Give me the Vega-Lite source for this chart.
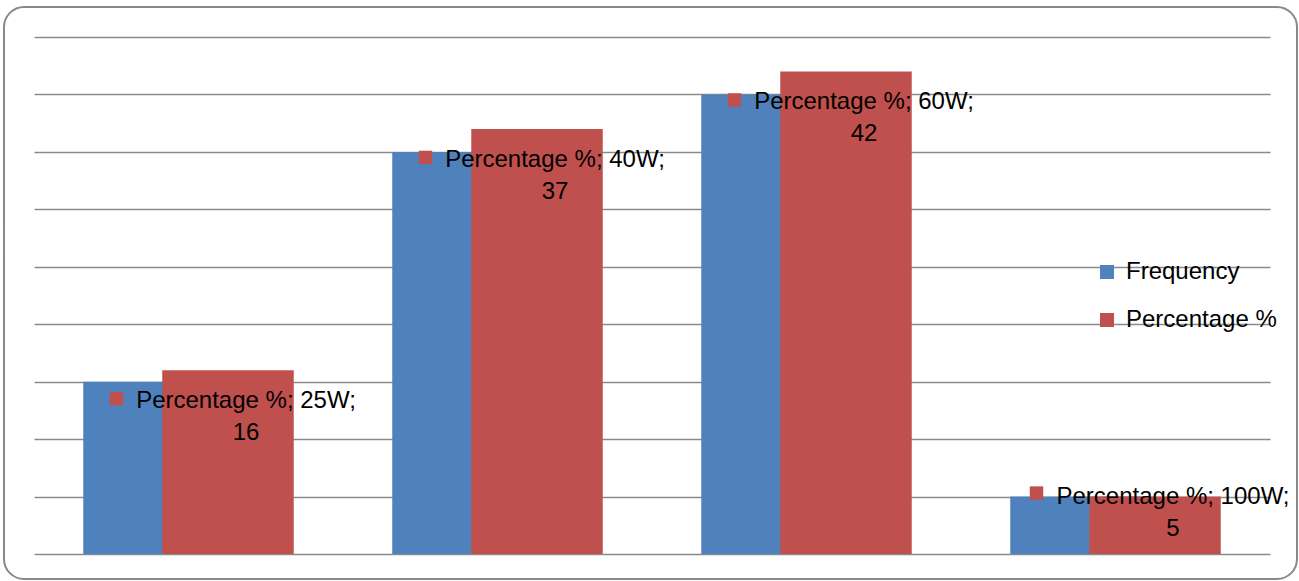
{
  "$schema": "https://vega.github.io/schema/vega-lite/v6.json",
  "width": 1293,
  "height": 572,
  "autosize": {"type": "none"},
  "padding": {"left": 4, "top": 7, "right": 2, "bottom": 2},
  "background": "white",
  "config": {
    "view": {"stroke": "#898989", "strokeWidth": 2, "cornerRadius": 20},
    "font": "Liberation Sans"
  },
  "data": {
    "values": [
      {"watt": "25W", "series": "Frequency", "value": 15},
      {"watt": "40W", "series": "Frequency", "value": 35},
      {"watt": "60W", "series": "Frequency", "value": 40},
      {"watt": "100W", "series": "Frequency", "value": 5},
      {"watt": "25W", "series": "Percentage %", "value": 16},
      {"watt": "40W", "series": "Percentage %", "value": 37},
      {"watt": "60W", "series": "Percentage %", "value": 42},
      {"watt": "100W", "series": "Percentage %", "value": 5}
    ]
  },
  "encoding": {
    "x": {
      "field": "watt",
      "type": "nominal",
      "sort": ["25W", "40W", "60W", "100W"],
      "scale": {"range": [30, 1266], "paddingInner": 0, "paddingOuter": 0},
      "axis": null
    },
    "y": {
      "field": "value",
      "type": "quantitative",
      "scale": {"domain": [0, 45], "range": [547, 30], "nice": false, "zero": true},
      "axis": {
        "values": [0, 5, 10, 15, 20, 25, 30, 35, 40, 45],
        "grid": true,
        "gridColor": "#8a8a8a",
        "gridWidth": 1.5,
        "labels": false,
        "ticks": false,
        "domain": false,
        "title": null
      }
    }
  },
  "layer": [
    {
      "transform": [{"filter": "datum.series == 'Frequency'"}],
      "mark": {"type": "bar", "width": 131.5, "xOffset": -39.5},
      "encoding": {
        "color": {
          "field": "series",
          "type": "nominal",
          "scale": {"domain": ["Frequency", "Percentage %"], "range": ["#4F81BD", "#C0504D"]},
          "legend": {
            "orient": "none",
            "legendX": 1091,
            "legendY": 253,
            "title": null,
            "padding": 0,
            "symbolType": "square",
            "symbolSize": 196,
            "symbolStrokeWidth": 0,
            "labelFontSize": 24,
            "labelFont": "Liberation Sans",
            "labelColor": "#000000",
            "labelOffset": 7,
            "rowPadding": 24
          }
        }
      }
    },
    {
      "transform": [{"filter": "datum.series == 'Percentage %'"}],
      "mark": {"type": "bar", "width": 131.5, "xOffset": 39.5},
      "encoding": {
        "color": {
          "field": "series",
          "type": "nominal",
          "scale": {"domain": ["Frequency", "Percentage %"], "range": ["#4F81BD", "#C0504D"]},
          "legend": {
            "orient": "none",
            "legendX": 1091,
            "legendY": 253,
            "title": null,
            "padding": 0,
            "symbolType": "square",
            "symbolSize": 196,
            "symbolStrokeWidth": 0,
            "labelFontSize": 24,
            "labelFont": "Liberation Sans",
            "labelColor": "#000000",
            "labelOffset": 7,
            "rowPadding": 24
          }
        }
      }
    },
    {
      "transform": [
        {"filter": "datum.series == 'Percentage %' && datum.watt != '100W'"},
        {"calculate": "'Percentage %; ' + datum.watt + ';'", "as": "label"}
      ],
      "mark": {"type": "text", "align": "center", "baseline": "alphabetic", "dx": 57.5, "dy": 38, "fontSize": 24, "color": "#000000"},
      "encoding": {"text": {"field": "label", "type": "nominal"}}
    },
    {
      "transform": [{"filter": "datum.series == 'Percentage %' && datum.watt != '100W'"}],
      "mark": {"type": "text", "align": "center", "baseline": "alphabetic", "dx": 57.5, "dy": 70, "fontSize": 24, "color": "#000000"},
      "encoding": {"text": {"field": "value", "type": "quantitative"}}
    },
    {
      "transform": [{"filter": "datum.series == 'Percentage %' && datum.watt != '100W'"}],
      "mark": {"type": "point", "shape": "square", "filled": true, "size": 180, "opacity": 1, "color": "#C0504D", "xOffset": -72, "yOffset": 28.5}
    },
    {
      "transform": [
        {"filter": "datum.series == 'Percentage %' && datum.watt == '100W'"},
        {"calculate": "'Percentage %; ' + datum.watt + ';'", "as": "label"}
      ],
      "mark": {"type": "text", "align": "center", "baseline": "alphabetic", "dx": 57.5, "dy": 7, "fontSize": 24, "color": "#000000"},
      "encoding": {"text": {"field": "label", "type": "nominal"}}
    },
    {
      "transform": [{"filter": "datum.series == 'Percentage %' && datum.watt == '100W'"}],
      "mark": {"type": "text", "align": "center", "baseline": "alphabetic", "dx": 57.5, "dy": 39, "fontSize": 24, "color": "#000000"},
      "encoding": {"text": {"field": "value", "type": "quantitative"}}
    },
    {
      "transform": [{"filter": "datum.series == 'Percentage %' && datum.watt == '100W'"}],
      "mark": {"type": "point", "shape": "square", "filled": true, "size": 180, "opacity": 1, "color": "#C0504D", "xOffset": -79, "yOffset": -3.5}
    }
  ]
}
